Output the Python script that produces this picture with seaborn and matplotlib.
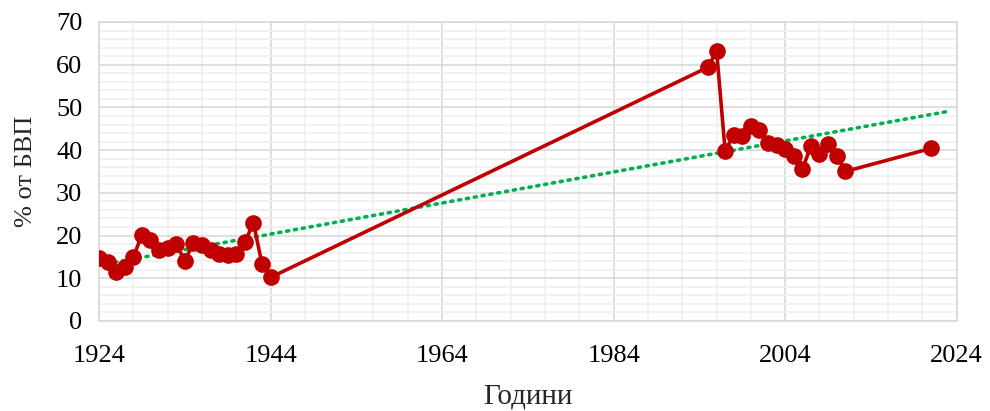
import numpy as np
import pandas as pd
import matplotlib
matplotlib.use('Agg')
import matplotlib.pyplot as plt
import seaborn as sns
from matplotlib.ticker import MultipleLocator

# data
years = [1924, 1925, 1926, 1927, 1928, 1929, 1930, 1931, 1932, 1933, 1934,
         1935, 1936, 1937, 1938, 1939, 1940, 1941, 1942, 1943, 1944,
         1995, 1996, 1997, 1998, 1999, 2000, 2001, 2002, 2003, 2004,
         2005, 2006, 2007, 2008, 2009, 2010, 2011, 2021]
values = [14.7, 13.9, 11.5, 12.7, 14.9, 20.2, 18.9, 16.6, 17.2, 18.0, 14.1,
          18.2, 17.7, 16.7, 15.7, 15.5, 15.6, 18.4, 23.0, 13.4, 10.2,
          59.4, 63.3, 39.8, 43.6, 43.3, 45.6, 44.8, 41.6, 41.3, 40.3,
          38.7, 35.5, 41.0, 39.1, 41.4, 38.7, 35.0, 40.4]
xticks = [1924, 1944, 1964, 1984, 2004, 2024]

df = pd.DataFrame({'year': years, 'value': values})

sns.set_theme(style='white')
plt.rcParams['font.family'] = ['Liberation Serif', 'DejaVu Serif']

fig = plt.figure(figsize=(9.9, 4.11), dpi=100)
ax = fig.add_axes([0.1, 0.219, 0.8664, 0.7275])

# linear trendline (Excel style), extended slightly forward
k, b = np.polyfit(df['year'], df['value'], 1)
tx = np.array([df['year'].min(), df['year'].max() + 2])
ax.plot(tx, k * tx + b, color='#00B050', linestyle=(0, (0.6, 1.6)),
        linewidth=2.6, dash_capstyle='round', zorder=3)

sns.lineplot(data=df, x='year', y='value', ax=ax, sort=False, color='#C00000',
             linewidth=2.6, marker='o', markersize=12, markeredgewidth=0,
             zorder=4)

ax.set_xlim(1924, 2024)
ax.set_ylim(0, 70)
ax.set_xticks(xticks)
ax.xaxis.set_minor_locator(MultipleLocator(4))
ax.yaxis.set_major_locator(MultipleLocator(10))
ax.yaxis.set_minor_locator(MultipleLocator(2))
ax.grid(which='major', color='#D9D9D9', linewidth=1.2)
ax.grid(which='minor', color='#EFEFEF', linewidth=1.2)
ax.set_axisbelow(True)
for s in ax.spines.values():
    s.set_color('#D9D9D9')
    s.set_linewidth(1.2)
ax.tick_params(axis='both', which='both', length=0, labelsize=19, colors='black')
ax.tick_params(axis='x', pad=17)
ax.tick_params(axis='y', pad=12)
ax.set_xlabel('Години', fontsize=21, labelpad=12)
ax.set_ylabel('% от БВП', fontsize=19, labelpad=14)

fig.savefig('out.png', dpi=100)
